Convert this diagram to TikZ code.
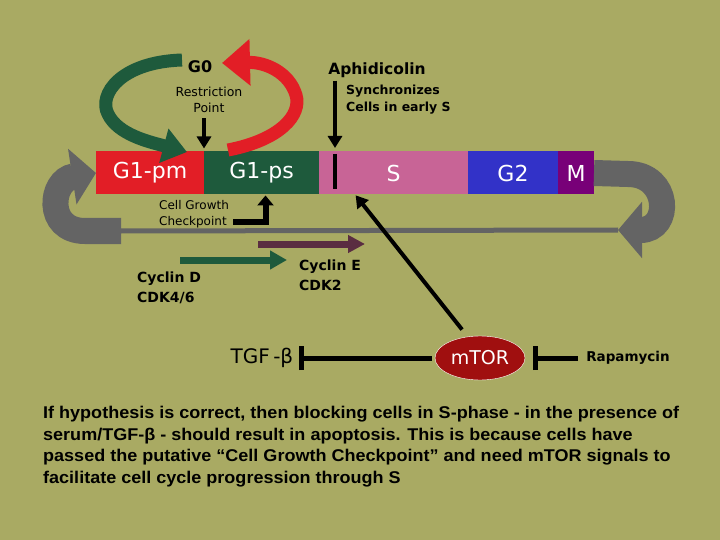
\documentclass[tikz,border=0pt]{standalone}
\usepackage{fontspec}
\setmainfont{DejaVu Sans}
\newfontfamily\notefont[FakeStretch=1.06]{Liberation Sans}
\usetikzlibrary{arrows.meta,positioning,shapes.geometric}

\definecolor{olivebg}{RGB}{169,170,99}
\definecolor{g1red}{RGB}{226,30,38}
\definecolor{g1green}{RGB}{30,90,60}
\definecolor{spink}{RGB}{200,100,150}
\definecolor{g2blue}{RGB}{50,50,200}
\definecolor{mpurple}{RGB}{120,0,120}
\definecolor{loopgray}{RGB}{100,100,100}
\definecolor{cycemaroon}{RGB}{90,45,65}
\definecolor{torred}{RGB}{160,15,15}

\begin{document}
\begin{tikzpicture}[x=1pt,y=-1pt,
        phase/.style={rectangle,minimum height=43,inner sep=0pt,outer sep=0pt,
          text=white,font=\fontsize{22}{22}\selectfont},
        tag/.style={inner sep=0pt,align=center},
        blk/.style={line width=4pt,-{Triangle[length=12pt,width=14pt]}},
        inhib/.style={line width=5pt,-{Bar[width=24pt,line width=5pt]}},
        band/.style={draw=loopgray,line width=26pt,-{Triangle[length=24pt,width=55pt]}},
        swoop/.style={line width=13pt}]

  \fill[olivebg] (0,0) rectangle (720,540);
  \useasboundingbox (0,0) rectangle (720,540);

  % loop back from M to G1
  \coordinate (loopR) at (618,230);
  \coordinate (loopL) at (121,231);

  % cycle bar
  \node[phase,fill=g1red,minimum width=108,anchor=west] (g1pm) at (96,173) {G1-pm};
  \node[phase,fill=g1green,minimum width=115,right=0pt of g1pm] (g1ps) {G1-ps};
  \node[phase,fill=spink,minimum width=149,right=0pt of g1ps] (s) {S};
  \node[phase,fill=g2blue,minimum width=90,right=0pt of s] (g2) {G2};
  \node[phase,fill=mpurple,minimum width=36,right=0pt of g2] (m) {M};

  \draw[band] (m.east) -- (628,174) .. controls (670,174) and (672,230) .. (loopR);
  \draw[loopgray,line width=5pt] (loopR) -- (loopL);
  \draw[band] (loopL) -- (85,231) .. controls (45,231) and (50,180) .. (g1pm.west);

  % G0 excursion
  \node[tag,font=\bfseries\fontsize{16}{16}\selectfont] (g0) at (200,67) {G0};
  \draw[g1green,swoop,-{Triangle[length=24pt,width=34pt]}]
    (182,60) .. controls (120,62) and (98,95) .. (108,114)
    .. controls (118,135) and (150,142) .. (187,152);
  \draw[g1red,swoop,-{Triangle[length=28pt,width=45pt]}]
    (228,150) .. controls (280,140) and (302,115) .. (296,95)
    .. controls (289,72) and (265,62) .. (222,63);

  % labels
  \node[tag,font=\fontsize{12.5}{16}\selectfont] (rp) at (209,100) {Restriction\\Point};
  \node[tag,font=\bfseries\fontsize{15.5}{17}\selectfont] (aph) at (377,70) {Aphidicolin};
  \node[tag,align=left,anchor=west,font=\bfseries\fontsize{12.5}{17}\selectfont]
    (sync) at (346,100) {Synchronizes\\Cells in early S};
  \node[tag,align=left,anchor=west,font=\fontsize{12}{16}\selectfont]
    (cgc) at (159,214) {Cell Growth\\Checkpoint};
  \node[tag,align=left,anchor=west,font=\bfseries\fontsize{14}{20}\selectfont]
    (cycd) at (137,288) {Cyclin D\\CDK4/6};
  \node[tag,align=left,anchor=west,font=\bfseries\fontsize{14}{20}\selectfont]
    (cyce) at (299,275) {Cyclin E\\CDK2};
  \node[ellipse,fill=torred,draw=white,thin,minimum width=90,minimum height=44,
    inner sep=0pt,text=white,font=\fontsize{19}{19}\selectfont] (mtor) at (480,358) {mTOR};
  \node[tag,font=\fontsize{20}{20}\selectfont] (tgf) at (262,358) {TGF\,-β};
  \node[tag,font=\bfseries\fontsize{13.5}{16}\selectfont] (rapa) at (628,358) {Rapamycin};

  % arrows into the bar
  \coordinate (ticktop) at (335,154);
  \coordinate (tickbot) at (335,189);
  \draw[line width=4pt] (ticktop) -- (tickbot);
  \draw[blk,shorten <=3pt,shorten >=6pt] (ticktop |- aph.south) -- (ticktop);
  \draw[blk,shorten <=5pt,shorten >=3pt] (g1pm.north east |- rp.south) -- (g1pm.north east);
  \draw[line width=6pt,-{Triangle[length=10pt,width=16pt]},shorten >=1pt]
    ([shift={(4,8)}]cgc.east) -| ([xshift=4pt]g1ps.south);
  \draw[blk,shorten <=9pt,shorten >=1pt] (mtor.120) -- ([xshift=36pt]s.south west);

  % cyclin arrows
  \coordinate (ce1) at (258,244);
  \coordinate (ce2) at (365,244);
  \coordinate (cd1) at (180,260);
  \coordinate (cd2) at (287,260);
  \draw[cycemaroon,line width=7pt,-{Triangle[length=17pt,width=17pt]}] (ce1) -- (ce2);
  \draw[g1green,line width=7pt,-{Triangle[length=17pt,width=18pt]}] (cd1) -- (cd2);

  % inhibitions
  \draw[inhib,shorten <=3pt,shorten >=6pt] (mtor.west) -- (tgf.east);
  \draw[inhib,shorten <=8pt,shorten >=8pt] (rapa.west) -- (mtor.east);

  \node[inner sep=0pt,anchor=north west,align=left,
    font=\notefont\bfseries\fontsize{17}{21.7}\selectfont] (note) at (43,406)
  {If hypothesis is correct, then blocking cells in S-phase - in the presence of\\
   serum/TGF-β - should result in apoptosis. This is because cells have\\
   passed the putative “Cell Growth Checkpoint” and need mTOR signals to\\
   facilitate cell cycle progression through S};

\end{tikzpicture}
\end{document}
